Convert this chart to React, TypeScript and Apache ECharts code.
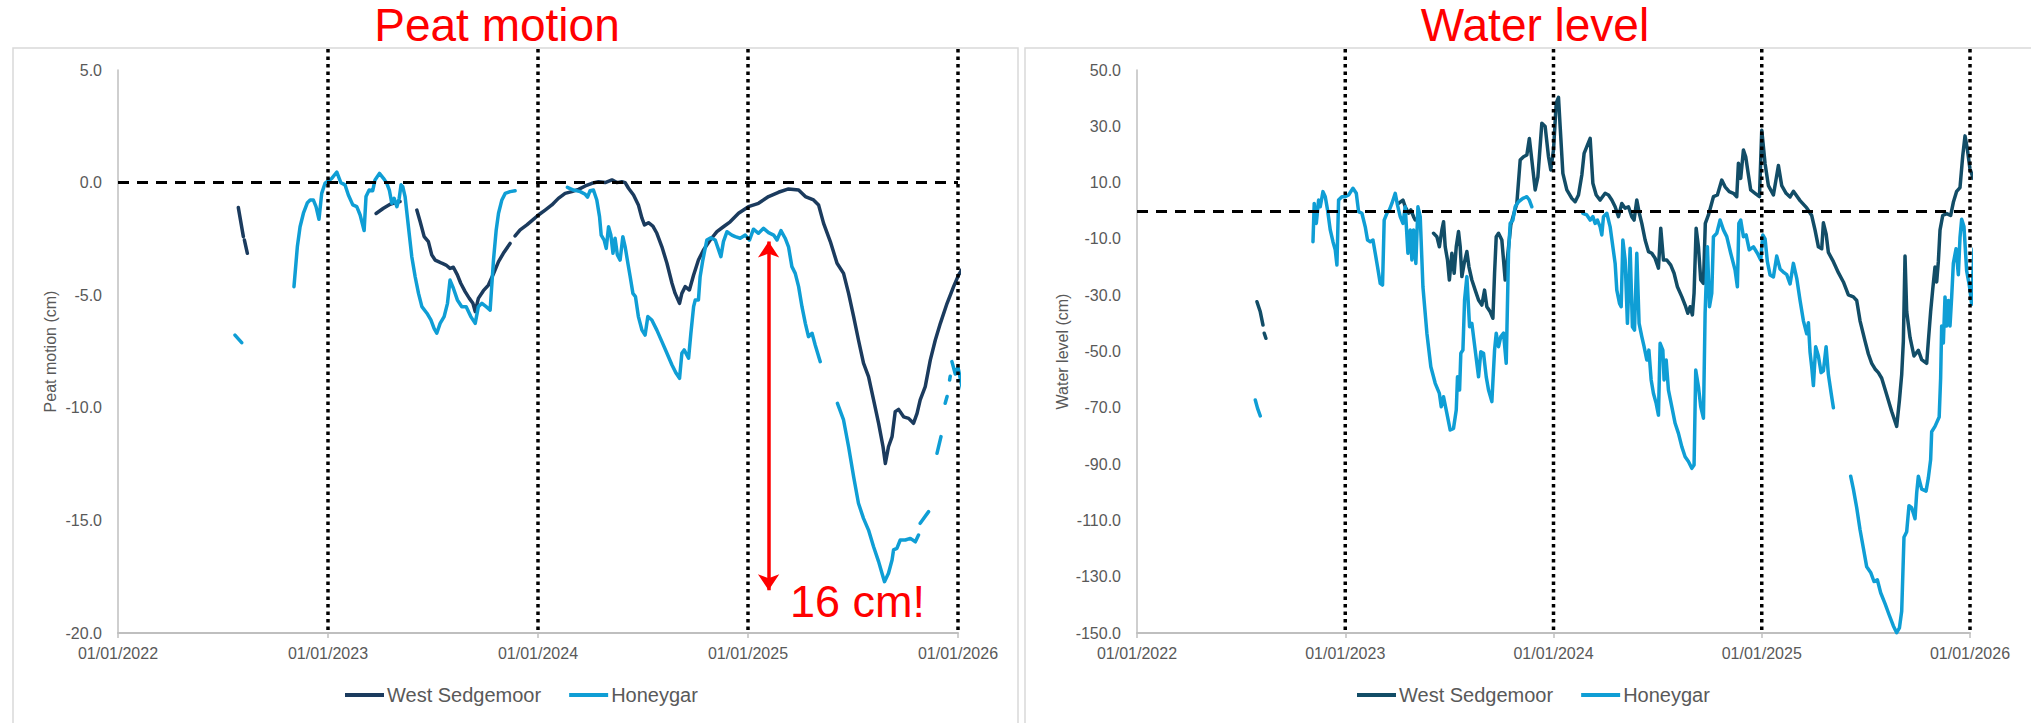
import React, { useEffect, useRef } from 'react';
import * as echarts from 'echarts';

// Time is stored as decimal years
const YEAR_TICKS = [2022, 2023, 2024, 2025, 2026];
const YEAR_LINES = [2023, 2024, 2025, 2026];

const PEAT_WEST: [number, number | null][] = [
  [2022.573, -1.11], [2022.597, -2.4], [2022.599, null], [2022.602, -2.55], [2022.616, -3.14], [2022.62, null],
  [2023.229, -1.37], [2023.264, -1.14], [2023.296, -0.96], [2023.311, -0.92], [2023.343, -0.84], [2023.36, null],
  [2023.423, -1.22], [2023.439, -1.74], [2023.458, -2.4], [2023.478, -2.62], [2023.494, -3.21], [2023.51, -3.44],
  [2023.526, -3.51], [2023.542, -3.58], [2023.562, -3.66], [2023.581, -3.81], [2023.597, -3.76], [2023.616, -4.1],
  [2023.632, -4.47], [2023.653, -4.84], [2023.673, -5.14], [2023.69, -5.36], [2023.701, -5.73], [2023.716, -5.14],
  [2023.74, -4.8], [2023.764, -4.55], [2023.788, -4.05], [2023.812, -3.51], [2023.835, -3.14], [2023.867, -2.7],
  [2023.872, null], [2023.891, -2.37], [2023.915, -2.1], [2023.947, -1.88], [2023.978, -1.63], [2024.002, -1.44],
  [2024.034, -1.22], [2024.066, -0.99], [2024.097, -0.7], [2024.129, -0.48], [2024.161, -0.4], [2024.193, -0.3],
  [2024.225, -0.15], [2024.257, -0.03], [2024.288, 0.04], [2024.32, 0.0], [2024.352, 0.12], [2024.376, 0.0],
  [2024.399, 0.04], [2024.415, 0.0], [2024.431, -0.25], [2024.455, -0.55], [2024.478, -0.99], [2024.495, -1.58],
  [2024.507, -1.88], [2024.526, -1.78], [2024.547, -1.93], [2024.566, -2.25], [2024.59, -2.85], [2024.614, -3.58],
  [2024.638, -4.47], [2024.653, -4.92], [2024.674, -5.36], [2024.685, -4.92], [2024.701, -4.62], [2024.721, -4.77],
  [2024.741, -4.1], [2024.764, -3.44], [2024.788, -2.99], [2024.82, -2.55], [2024.852, -2.18], [2024.883, -1.96],
  [2024.915, -1.74], [2024.955, -1.36], [2025.002, -1.07], [2025.05, -0.92], [2025.098, -0.62], [2025.145, -0.43],
  [2025.193, -0.28], [2025.241, -0.33], [2025.273, -0.62], [2025.312, -0.77], [2025.336, -0.99], [2025.36, -1.81],
  [2025.392, -2.62], [2025.424, -3.58], [2025.455, -4.03], [2025.479, -4.92], [2025.503, -5.95], [2025.526, -6.99],
  [2025.55, -8.02], [2025.574, -8.62], [2025.598, -9.65], [2025.622, -10.69], [2025.643, -11.73], [2025.654, -12.47],
  [2025.669, -11.73], [2025.686, -11.28], [2025.701, -10.17], [2025.717, -10.07], [2025.741, -10.4], [2025.765, -10.47],
  [2025.788, -10.69], [2025.805, -10.25], [2025.82, -9.65], [2025.844, -9.06], [2025.868, -7.88], [2025.892, -6.99],
  [2025.916, -6.25], [2025.948, -5.36], [2025.979, -4.62], [2026.003, -4.1], [2026.027, -3.73],
];

const PEAT_HONEY: [number, number | null][] = [
  [2022.557, -6.77], [2022.589, -7.11], [2022.6, null],
  [2022.838, -4.62], [2022.854, -2.85], [2022.867, -1.96], [2022.883, -1.36], [2022.902, -0.89], [2022.915, -0.77],
  [2022.93, -0.77], [2022.943, -1.07], [2022.957, -1.63], [2022.97, -0.48], [2022.986, -0.03], [2023.018, 0.19],
  [2023.042, 0.47], [2023.061, 0.0], [2023.081, -0.1], [2023.097, -0.55], [2023.118, -0.99], [2023.137, -1.07],
  [2023.153, -1.44], [2023.172, -2.13], [2023.181, -0.62], [2023.196, -0.33], [2023.213, -0.36], [2023.224, 0.12],
  [2023.245, 0.41], [2023.264, 0.19], [2023.28, -0.03], [2023.292, -0.33], [2023.304, -0.92], [2023.315, -0.7],
  [2023.328, -1.07], [2023.339, -0.7], [2023.348, -0.1], [2023.356, -0.18], [2023.367, -0.62], [2023.383, -1.96],
  [2023.399, -3.29], [2023.415, -4.18], [2023.431, -4.92], [2023.447, -5.51], [2023.471, -5.8], [2023.49, -6.1],
  [2023.505, -6.47], [2023.518, -6.69], [2023.534, -6.25], [2023.553, -5.95], [2023.569, -5.36], [2023.581, -4.33],
  [2023.597, -4.69], [2023.616, -5.21], [2023.637, -5.51], [2023.658, -5.51], [2023.68, -5.95], [2023.701, -6.25],
  [2023.716, -5.51], [2023.733, -5.36], [2023.753, -5.51], [2023.772, -5.66], [2023.788, -3.44], [2023.801, -2.1],
  [2023.812, -1.36], [2023.828, -0.77], [2023.844, -0.48], [2023.867, -0.4], [2023.891, -0.36], [2023.9, null],
  [2024.14, -0.21], [2024.169, -0.33], [2024.201, -0.4], [2024.225, -0.52], [2024.236, -0.65], [2024.248, -0.36],
  [2024.264, -0.33], [2024.28, -0.77], [2024.293, -1.51], [2024.301, -2.33], [2024.315, -2.55], [2024.325, -2.92],
  [2024.336, -1.96], [2024.347, -2.33], [2024.357, -3.14], [2024.367, -2.47], [2024.378, -3.21], [2024.391, -3.44],
  [2024.404, -2.4], [2024.415, -2.85], [2024.428, -3.58], [2024.439, -4.18], [2024.452, -4.92], [2024.464, -5.06],
  [2024.478, -5.95], [2024.495, -6.55], [2024.51, -6.77], [2024.523, -5.95], [2024.542, -6.1], [2024.566, -6.55],
  [2024.59, -7.06], [2024.614, -7.58], [2024.638, -8.1], [2024.658, -8.47], [2024.674, -8.69], [2024.685, -7.58],
  [2024.696, -7.43], [2024.717, -7.8], [2024.728, -6.69], [2024.741, -5.51], [2024.749, -5.21], [2024.764, -5.21],
  [2024.772, -4.18], [2024.785, -3.44], [2024.804, -2.55], [2024.823, -2.45], [2024.844, -2.55], [2024.86, -2.99],
  [2024.871, -3.29], [2024.883, -2.62], [2024.9, -2.18], [2024.923, -2.33], [2024.939, -2.4], [2024.963, -2.47],
  [2024.987, -2.33], [2025.007, -2.55], [2025.026, -2.07], [2025.05, -2.25], [2025.074, -2.03], [2025.098, -2.22],
  [2025.122, -2.33], [2025.138, -2.55], [2025.157, -2.13], [2025.177, -2.47], [2025.193, -2.85], [2025.209, -3.73],
  [2025.225, -4.03], [2025.241, -4.62], [2025.257, -5.51], [2025.273, -6.25], [2025.288, -6.84], [2025.305, -6.69],
  [2025.32, -7.21], [2025.344, -7.95], [2025.35, null],
  [2025.426, -9.8], [2025.455, -10.54], [2025.479, -11.73], [2025.503, -13.06], [2025.526, -14.24], [2025.55, -14.91],
  [2025.574, -15.43], [2025.598, -16.17], [2025.622, -16.83], [2025.638, -17.35], [2025.65, -17.72], [2025.669, -17.35],
  [2025.686, -16.76], [2025.693, -16.31], [2025.709, -16.24], [2025.725, -15.87], [2025.749, -15.87], [2025.773, -15.8],
  [2025.797, -15.95], [2025.812, -15.65], [2025.814, null], [2025.82, -15.13], [2025.86, -14.61], [2025.87, null],
  [2025.9, -12.02], [2025.919, -11.28], [2025.925, null], [2025.939, -9.8], [2025.948, -9.5], [2025.95, null],
  [2025.96, -8.77], [2025.963, -8.6], [2025.965, null], [2025.971, -7.95], [2025.987, -8.5], [2026.0, -8.2],
  [2026.015, -8.9], [2026.025, -9.3],
];

const WATER_WEST: [number, number | null][] = [
  [2022.576, -32.3], [2022.592, -35.9], [2022.605, -40.6], [2022.607, null], [2022.611, -43.5], [2022.619, -45.3], [2022.62, null],
  [2023.256, 2.6], [2023.277, 3.8], [2023.288, 1.4], [2023.304, -0.9], [2023.315, 0.3], [2023.328, -2.1], [2023.336, -3.3], [2023.34, null],
  [2023.424, -8.0], [2023.44, -9.2], [2023.452, -12.8], [2023.464, -6.8], [2023.472, -3.9], [2023.48, -12.8],
  [2023.491, -17.5], [2023.5, -24.6], [2023.512, -15.1], [2023.523, -22.2], [2023.533, -12.8], [2023.544, -7.4],
  [2023.552, -12.8], [2023.56, -23.4], [2023.571, -18.7], [2023.584, -14.5], [2023.594, -19.9], [2023.608, -24.6],
  [2023.624, -28.2], [2023.64, -31.7], [2023.656, -33.5], [2023.669, -28.2], [2023.68, -34.1], [2023.696, -35.9],
  [2023.709, -38.2], [2023.717, -22.2], [2023.725, -9.2], [2023.736, -8.0], [2023.752, -10.4], [2023.768, -24.6],
  [2023.795, -5.0], [2023.81, -1.0], [2023.824, 2.6], [2023.84, 18.0], [2023.856, 19.2], [2023.872, 19.8],
  [2023.884, 25.7], [2023.896, 18.0], [2023.912, 7.4], [2023.925, 12.0], [2023.944, 31.1], [2023.96, 29.9],
  [2023.976, 19.2], [2023.987, 14.5], [2024.0, 21.6], [2024.013, 38.2], [2024.024, 40.3], [2024.032, 29.9],
  [2024.045, 13.3], [2024.064, 7.4], [2024.088, 4.4], [2024.104, 3.2], [2024.12, 5.6], [2024.136, 12.7],
  [2024.147, 20.4], [2024.16, 22.8], [2024.176, 25.7], [2024.189, 9.8], [2024.205, 5.6], [2024.224, 3.8],
  [2024.248, 6.2], [2024.264, 5.6], [2024.28, 3.8], [2024.296, 1.4], [2024.312, -2.1], [2024.328, 2.6],
  [2024.344, 0.9], [2024.36, 1.4], [2024.376, -2.1], [2024.387, -3.3], [2024.4, 3.8], [2024.412, -0.9],
  [2024.424, -4.5], [2024.44, -10.4], [2024.456, -14.5], [2024.472, -15.1], [2024.488, -16.9], [2024.504, -20.4],
  [2024.515, -6.2], [2024.528, -17.5], [2024.544, -17.5], [2024.563, -19.3], [2024.579, -22.2], [2024.595, -27.0],
  [2024.616, -30.5], [2024.632, -33.5], [2024.645, -36.4], [2024.656, -34.1], [2024.667, -37.0], [2024.675, -29.3],
  [2024.685, -6.2], [2024.696, -12.8], [2024.707, -24.6], [2024.72, -25.8], [2024.729, -4.5], [2024.744, -1.5],
  [2024.755, 1.4], [2024.768, 5.0], [2024.787, 5.6], [2024.808, 10.9], [2024.824, 8.5], [2024.844, 6.8],
  [2024.864, 6.2], [2024.88, 5.0], [2024.888, 16.9], [2024.899, 11.5], [2024.912, 21.6], [2024.923, 19.2],
  [2024.936, 12.7], [2024.947, 7.4], [2024.968, 6.2], [2024.989, 5.0], [2025.0, 28.6], [2025.016, 16.7],
  [2025.032, 8.9], [2025.056, 5.6], [2025.08, 16.1], [2025.096, 8.9], [2025.117, 6.2], [2025.136, 4.9],
  [2025.152, 6.9], [2025.184, 3.6], [2025.216, 1.0], [2025.24, -1.7], [2025.256, -6.9], [2025.272, -12.8],
  [2025.288, -13.5], [2025.296, -4.3], [2025.309, -8.2], [2025.32, -14.8], [2025.344, -18.1], [2025.368, -22.0],
  [2025.392, -25.3], [2025.416, -29.9], [2025.44, -30.6], [2025.456, -31.9], [2025.472, -39.1], [2025.496, -46.3],
  [2025.512, -50.9], [2025.528, -54.2], [2025.544, -56.2], [2025.56, -57.5], [2025.576, -59.5], [2025.6, -65.4],
  [2025.624, -71.3], [2025.648, -76.6], [2025.661, -67.4], [2025.672, -58.2], [2025.68, -46.3], [2025.688, -16.1],
  [2025.696, -35.8], [2025.712, -45.0], [2025.731, -51.6], [2025.752, -49.6], [2025.768, -52.9], [2025.792, -54.2],
  [2025.8, -46.3], [2025.811, -35.8], [2025.821, -27.9], [2025.832, -20.0], [2025.84, -25.3], [2025.848, -18.1],
  [2025.856, -6.9], [2025.869, -1.7], [2025.888, -1.0], [2025.907, -1.7], [2025.92, 3.0], [2025.936, 6.9],
  [2025.952, 8.2], [2025.965, 19.4], [2025.976, 26.6], [2025.987, 22.0], [2026.0, 14.8], [2026.016, 11.5],
];

const WATER_HONEY: [number, number | null][] = [
  [2022.568, -67.2], [2022.579, -70.2], [2022.592, -72.9], [2022.6, null],
  [2022.845, -11.0], [2022.851, 2.6], [2022.861, -4.5], [2022.872, 3.8], [2022.88, 1.4], [2022.893, 6.8],
  [2022.904, 5.0], [2022.915, 0.3], [2022.928, -6.8], [2022.941, -11.0], [2022.952, -13.9], [2022.96, -19.3],
  [2022.968, 3.8], [2022.984, 5.0], [2023.0, 5.0], [2023.016, 5.6], [2023.037, 8.0], [2023.053, 6.2],
  [2023.064, -0.3], [2023.08, -0.9], [2023.096, -5.7], [2023.107, -10.4], [2023.12, -11.0], [2023.133, -10.4],
  [2023.144, -15.1], [2023.155, -19.9], [2023.168, -25.8], [2023.179, -26.4], [2023.187, -3.3], [2023.2, -0.9],
  [2023.212, 0.3], [2023.224, 2.6], [2023.24, 6.2], [2023.251, 2.0], [2023.264, -2.1], [2023.277, -4.5],
  [2023.288, 1.4], [2023.301, -15.1], [2023.312, -6.8], [2023.32, -17.5], [2023.328, -6.8], [2023.339, -18.7],
  [2023.349, 1.4], [2023.36, -2.1], [2023.373, -27.0], [2023.392, -43.5], [2023.411, -55.4], [2023.432, -61.3],
  [2023.452, -64.9], [2023.461, -69.6], [2023.472, -66.1], [2023.488, -72.0], [2023.504, -77.9], [2023.52, -77.3],
  [2023.533, -70.8], [2023.539, -59.0], [2023.549, -63.7], [2023.555, -50.6], [2023.565, -49.5], [2023.573, -31.7],
  [2023.584, -23.4], [2023.597, -41.2], [2023.608, -40.0], [2023.624, -49.5], [2023.64, -59.0], [2023.651, -50.1],
  [2023.664, -50.6], [2023.677, -59.0], [2023.688, -63.7], [2023.704, -67.8], [2023.717, -49.5], [2023.725, -43.5],
  [2023.736, -48.3], [2023.747, -44.7], [2023.76, -43.5], [2023.773, -54.2], [2023.784, -15.1], [2023.792, -4.5],
  [2023.805, -3.3], [2023.816, 1.4], [2023.832, 3.2], [2023.853, 4.4], [2023.872, 5.0], [2023.884, 3.8],
  [2023.896, 1.4], [2023.9, null],
  [2024.141, -0.9], [2024.16, -1.5], [2024.176, -3.3], [2024.189, -2.1], [2024.2, -4.5], [2024.211, -3.3],
  [2024.224, -5.7], [2024.232, -8.6], [2024.24, -2.1], [2024.256, -0.9], [2024.272, -5.7], [2024.285, -12.8],
  [2024.296, -18.7], [2024.304, -28.2], [2024.317, -32.9], [2024.325, -34.1], [2024.333, -10.4], [2024.344, -17.5],
  [2024.355, -40.0], [2024.368, -13.3], [2024.379, -41.2], [2024.389, -42.4], [2024.4, -15.1], [2024.411, -40.0],
  [2024.424, -44.7], [2024.435, -48.3], [2024.448, -53.0], [2024.458, -49.5], [2024.469, -60.1], [2024.48, -64.9],
  [2024.493, -68.4], [2024.504, -72.6], [2024.512, -47.1], [2024.525, -49.5], [2024.531, -60.1], [2024.541, -53.0],
  [2024.552, -63.7], [2024.568, -69.6], [2024.584, -75.5], [2024.6, -79.1], [2024.616, -83.8], [2024.632, -87.4],
  [2024.648, -89.1], [2024.664, -91.5], [2024.675, -90.3], [2024.683, -56.6], [2024.696, -62.5], [2024.707, -69.6],
  [2024.72, -73.7], [2024.728, -36.4], [2024.739, -12.8], [2024.749, -34.1], [2024.76, -29.3], [2024.768, -9.2],
  [2024.784, -8.0], [2024.8, -3.3], [2024.816, -6.8], [2024.832, -9.2], [2024.851, -15.1], [2024.872, -21.1],
  [2024.883, -27.0], [2024.89, -4.5], [2024.899, -3.3], [2024.912, -9.2], [2024.925, -8.6], [2024.94, -13.9],
  [2024.96, -12.8], [2024.979, -15.1], [2024.995, -17.5], [2025.005, -8.6], [2025.016, -10.0], [2025.027, -18.1],
  [2025.04, -22.8], [2025.056, -23.5], [2025.072, -16.1], [2025.088, -20.7], [2025.107, -22.0], [2025.12, -22.7],
  [2025.136, -26.0], [2025.152, -18.7], [2025.168, -24.0], [2025.184, -31.9], [2025.2, -39.1], [2025.216, -43.7],
  [2025.224, -39.8], [2025.232, -50.3], [2025.24, -55.5], [2025.248, -62.1], [2025.259, -48.3], [2025.272, -51.6],
  [2025.285, -57.5], [2025.296, -56.9], [2025.309, -48.3], [2025.32, -58.2], [2025.333, -64.7], [2025.344, -70.0],
  [2025.35, null],
  [2025.427, -94.3], [2025.44, -98.9], [2025.456, -105.5], [2025.472, -113.3], [2025.488, -119.9], [2025.504, -126.5],
  [2025.523, -128.5], [2025.539, -131.7], [2025.555, -131.1], [2025.571, -135.7], [2025.592, -139.6], [2025.612, -143.6],
  [2025.632, -147.5], [2025.648, -149.9], [2025.661, -148.2], [2025.672, -142.3], [2025.683, -116.0], [2025.696, -114.0],
  [2025.707, -104.8], [2025.72, -105.5], [2025.736, -109.4], [2025.744, -100.2], [2025.752, -94.3], [2025.768, -98.9],
  [2025.789, -99.6], [2025.8, -94.9], [2025.811, -88.4], [2025.816, -78.5], [2025.832, -76.6], [2025.852, -73.3],
  [2025.859, -59.5], [2025.864, -40.9], [2025.872, -47.0], [2025.88, -30.6], [2025.888, -40.9], [2025.896, -31.9],
  [2025.904, -40.9], [2025.912, -30.6], [2025.92, -18.7], [2025.933, -13.5], [2025.944, -22.7], [2025.952, -9.5],
  [2025.96, -3.0], [2025.971, -5.6], [2025.984, -21.4], [2025.997, -26.6], [2026.008, -33.2], [2026.019, -13.5],
];

const ARROW_AT = 2025.098;
const ARROW_FROM = -2.62;
const ARROW_TO = -18.1;

const FONT = '"Liberation Sans", Arial, sans-serif';
const GREY_TEXT = '#595959';
const AXIS_GREY = '#bfbfbf';
const C_WEST_PEAT = '#1b3b5e';
const C_WEST_WATER = '#124d67';
const C_HONEY = '#0f9ed5';

const Y_RANGES = [
  { min: -20, max: 5, interval: 5, name: 'Peat motion (cm)', gap: 60 },
  { min: -150, max: 50, interval: 20, name: 'Water level (cm)', gap: 67 },
];

export default function App() {
  const ref = useRef<HTMLDivElement>(null);
  useEffect(() => {
    document.body.style.margin = '0';
    const chart = echarts.init(ref.current!, null, { renderer: 'svg' });

    const xAxis = (gi: number) => ({
      type: 'value',
      gridIndex: gi,
      min: YEAR_TICKS[0],
      max: YEAR_TICKS[YEAR_TICKS.length - 1],
      interval: 1,
      axisLine: { show: true, onZero: false, lineStyle: { color: AXIS_GREY, width: 2 } },
      axisTick: { show: true, length: 5, lineStyle: { color: AXIS_GREY, width: 1.5 } },
      splitLine: { show: false },
      axisLabel: {
        color: GREY_TEXT, fontSize: 16, fontFamily: FONT, margin: 12,
        showMinLabel: true, showMaxLabel: true,
        formatter: (v: number) => '01/01/' + Math.round(v),
      },
    });
    const yAxis = (gi: number) => ({
      type: 'value',
      gridIndex: gi,
      min: Y_RANGES[gi].min,
      max: Y_RANGES[gi].max,
      interval: Y_RANGES[gi].interval,
      name: Y_RANGES[gi].name,
      nameLocation: 'middle',
      nameGap: Y_RANGES[gi].gap,
      nameTextStyle: { color: GREY_TEXT, fontSize: 16, fontFamily: FONT },
      axisLine: { show: true, onZero: false, lineStyle: { color: AXIS_GREY, width: 1.5 } },
      axisTick: { show: false },
      splitLine: { show: false },
      axisLabel: {
        color: GREY_TEXT, fontSize: 16, fontFamily: FONT, margin: 16,
        formatter: (v: number) => v.toFixed(1),
      },
    });

    const line = (name: string, data: [number, number | null][], gi: number, color: string, extra: any = {}) => ({
      type: 'line',
      name,
      xAxisIndex: gi,
      yAxisIndex: gi,
      data,
      showSymbol: false,
      symbol: 'none',
      connectNulls: false,
      clip: false,
      lineStyle: { color, width: 3.5, join: 'round', cap: 'round' },
      itemStyle: { color },
      emphasis: { disabled: true },
      ...extra,
    });

    const zeroLine = {
      markLine: {
        silent: true,
        symbol: 'none',
        label: { show: false },
        lineStyle: { color: '#000', width: 3, type: [11, 8] },
        data: [{ yAxis: 0 }],
      },
    };

    const legend = (left: number, westColor: string) => ({
      left,
      top: 685,
      padding: 0,
      itemWidth: 39,
      itemHeight: 4,
      itemGap: 28,
      icon: 'rect',
      textStyle: { color: GREY_TEXT, fontSize: 20, fontFamily: FONT, padding: [0, 0, 0, -2] },
      data: [
        { name: 'West Sedgemoor', itemStyle: { color: westColor }, lineStyle: { color: westColor } },
        { name: 'Honeygar', itemStyle: { color: C_HONEY }, lineStyle: { color: C_HONEY } },
      ],
    });

    chart.setOption({
      animation: false,
      grid: [
        { left: 118, top: 70, width: 840, height: 563 },
        { left: 1137, top: 70, width: 833, height: 563 },
      ],
      xAxis: [xAxis(0), xAxis(1)],
      yAxis: [yAxis(0), yAxis(1)],
      legend: [legend(345, C_WEST_PEAT), legend(1357, C_WEST_WATER)],
      series: [
        line('West Sedgemoor', PEAT_WEST, 0, C_WEST_PEAT, zeroLine),
        line('Honeygar', PEAT_HONEY, 0, C_HONEY, {
          markLine: {
            silent: true,
            symbol: ['arrow', 'arrow'],
            symbolSize: [16, 16],
            label: { show: false },
            lineStyle: { color: '#ff0000', width: 3.5, type: 'solid' },
            itemStyle: { color: '#ff0000' },
            data: [[{ coord: [ARROW_AT, ARROW_FROM] }, { coord: [ARROW_AT, ARROW_TO] }]],
          },
        }),
        line('West Sedgemoor', WATER_WEST, 1, C_WEST_WATER, zeroLine),
        line('Honeygar', WATER_HONEY, 1, C_HONEY),
      ],
    });

    const g: any[] = [
      { type: 'rect', silent: true, z: -10, shape: { x: 13, y: 48, width: 1005, height: 700 }, style: { fill: 'none', stroke: '#d9d9d9', lineWidth: 1.5 } },
      { type: 'rect', silent: true, z: -10, shape: { x: 1025, y: 48, width: 1020, height: 700 }, style: { fill: 'none', stroke: '#d9d9d9', lineWidth: 1.5 } },
      { type: 'text', silent: true, x: 497, y: 25, style: { text: 'Peat motion', fill: '#ff0000', font: '46px ' + FONT, textAlign: 'center', textVerticalAlign: 'middle', align: 'center', verticalAlign: 'middle' } },
      { type: 'text', silent: true, x: 1535, y: 25, style: { text: 'Water level', fill: '#ff0000', font: '46px ' + FONT, textAlign: 'center', textVerticalAlign: 'middle', align: 'center', verticalAlign: 'middle' } },
      { type: 'text', silent: true, x: 790, y: 601, style: { text: '16 cm!', fill: '#ff0000', font: '45px ' + FONT, textAlign: 'left', textVerticalAlign: 'middle', align: 'left', verticalAlign: 'middle' } },
    ];
    [0, 1].forEach((gi) => {
      YEAR_LINES.forEach((yr) => {
        const p = chart.convertToPixel({ gridIndex: gi } as any, [yr, Y_RANGES[gi].min]) as number[];
        g.push({
          type: 'line', silent: true, z: 50,
          shape: { x1: p[0], y1: 49, x2: p[0], y2: p[1] },
          style: { stroke: '#000', lineWidth: 3.5, lineDash: [3.5, 4] },
        });
      });
    });
    chart.setOption({ graphic: g });

    return () => chart.dispose();
  }, []);
  return <div ref={ref} style={{ position: 'absolute', left: 0, top: 0, width: 2031, height: 723 }} />;
}
